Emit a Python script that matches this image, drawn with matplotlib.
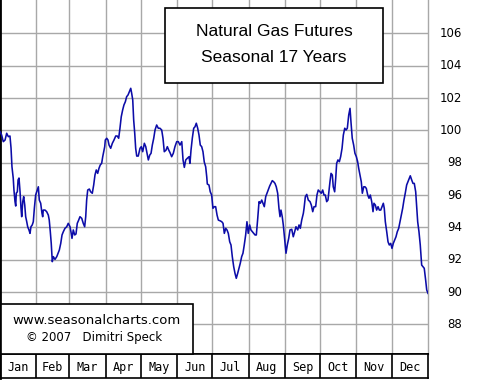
import matplotlib
matplotlib.use("Agg")
import matplotlib.pyplot as plt
import matplotlib.transforms as mtransforms
from matplotlib.patches import Rectangle

# ---- data -------------------------------------------------------------
days = [0, 1.4, 2.8, 4.3, 5.7, 7.1, 8.5, 9.4, 10.2, 11.3, 11.9, 12.8, 13.4, 13.9, 14.8, 15.4,
        16.2, 17.1, 17.9, 18.5, 19.4, 20.2, 21.1, 21.9, 22.8, 23.6, 24.7, 25.6, 26.4, 27.5,
        28.4, 29.3, 30.4, 31.8, 32.7, 33.5, 34.7, 35.8, 36.4, 36.9, 38.4, 39.8, 41.2, 42.0,
        42.9, 43.7, 44.6, 45.5, 46.9, 48.4, 49.5, 50.6, 51.8, 52.9, 54.0, 55.4, 56.9, 58.2,
        59.7, 60.5, 61.4, 62.5, 63.7, 64.8, 65.9, 67.1, 68.2, 69.7, 71.0, 72.2, 73.1, 73.9,
        74.8, 76.2, 77.3, 78.7, 79.9, 81.0, 82.1, 83.3, 84.4, 85.5, 86.7, 87.6, 88.7, 89.3,
        89.8, 91.0, 92.1, 93.0, 94.4, 95.8, 97.2, 98.7, 100.0, 101.2, 102.3, 103.4, 104.6,
        105.7, 106.9, 108.0, 109.2, 110.3, 111.5, 112.3, 113.2, 114.0, 114.9, 115.7, 116.6,
        117.9, 119.4, 120.5, 121.7, 123.1, 124.3, 125.4, 126.5, 127.7, 128.8, 129.9, 131.1,
        132.2, 133.6, 135.0, 136.4, 137.9, 139.0, 140.1, 141.6, 142.7, 143.9, 145.0, 146.4,
        147.8, 149.2, 150.7, 152.1, 153.5, 155.0, 156.1, 157.2, 158.4, 159.7, 161.2, 162.0,
        162.9, 164.0, 165.2, 166.3, 167.4, 168.6, 169.7, 170.8, 172.0, 173.1, 174.2, 175.4,
        176.3, 176.8, 178.2, 179.3, 180.5, 181.6, 182.8, 183.9, 185.1, 186.2, 187.6, 189.1,
        190.2, 191.3, 192.5, 193.6, 194.7, 195.9, 197.0, 198.1, 199.3, 200.4, 201.5, 202.7,
        203.8, 204.9, 206.1, 207.2, 208.3, 209.5, 210.6, 211.7, 212.9, 214.0, 215.2, 216.4,
        217.5, 218.6, 219.8, 220.9, 222.0, 223.2, 224.3, 225.4, 226.6, 227.7, 228.8, 230.0,
        231.1, 232.2, 233.4, 234.5, 235.6, 236.8, 237.9, 238.8, 239.6, 240.7, 241.6, 242.8,
        243.9, 245.0, 246.2, 247.3, 248.8, 250.1, 251.3, 252.4, 253.9, 255.0, 256.1, 257.3,
        258.7, 259.3, 260.4, 261.6, 262.9, 264.4, 265.5, 266.7, 267.8, 269.2, 270.3, 271.4,
        272.9, 274.0, 275.2, 276.3, 277.4, 278.6, 279.7, 280.6, 281.4, 282.3, 283.4, 284.2,
        285.4, 286.3, 287.1, 288.2, 289.4, 290.5, 291.7, 292.8, 294.0, 295.1, 296.2, 297.4,
        298.5, 299.3, 300.4, 301.6, 302.7, 303.9, 305.0, 305.9, 307.0, 308.1, 309.0, 310.2,
        311.3, 312.4, 313.6, 314.7, 315.8, 317.0, 318.1, 318.9, 320.1, 321.2, 322.4, 323.5,
        324.7, 325.8, 326.9, 327.7, 328.6, 329.8, 330.9, 332.0, 333.2, 334.3, 335.4, 336.6,
        337.7, 338.8, 340.0, 341.1, 342.2, 343.4, 344.5, 345.6, 346.8, 347.9, 349.1, 349.9,
        351.1, 352.2, 353.3, 354.5, 355.4, 356.2, 357.3, 358.4, 359.6, 360.7, 361.8, 363.0,
        363.9, 365.0]
values = [99.92, 99.71, 99.30, 99.40, 99.82, 99.61, 99.65, 98.91, 97.75, 97.03, 96.31, 95.59,
          95.32, 96.12, 96.20, 96.93, 97.05, 96.20, 95.20, 94.66, 95.59, 95.90, 95.38, 94.66,
          94.35, 94.04, 93.84, 93.63, 94.04, 94.15, 94.35, 95.18, 96.00, 96.31, 96.51, 95.69,
          95.49, 94.87, 94.66, 95.07, 95.07, 94.97, 94.76, 94.45, 93.73, 93.01, 91.88, 92.19,
          92.02, 92.19, 92.40, 92.60, 93.01, 93.53, 93.73, 93.94, 94.04, 94.25, 94.04, 93.73,
          93.32, 93.84, 93.53, 93.59, 94.25, 94.45, 94.66, 94.56, 94.25, 94.04, 94.66, 95.69,
          96.31, 96.37, 96.20, 96.11, 96.62, 97.24, 97.55, 97.34, 97.65, 97.86, 97.96, 98.37,
          98.78, 98.99, 99.40, 99.51, 99.40, 99.09, 98.89, 99.20, 99.40, 99.65, 99.65, 99.51,
          100.13, 100.84, 101.26, 101.57, 101.77, 102.08, 102.19, 102.39, 102.60, 102.29,
          101.88, 100.64, 99.82, 98.89, 98.41, 98.41, 98.89, 98.99, 98.68, 99.20, 98.99, 98.58,
          98.17, 98.47, 98.58, 99.09, 99.51, 100.02, 100.33, 100.13, 100.13, 100.02, 99.51,
          98.68, 98.78, 98.99, 98.78, 98.62, 98.37, 98.58, 98.99, 99.30, 99.30, 99.09, 99.30,
          98.17, 97.71, 98.17, 98.27, 98.37, 97.96, 98.78, 99.51, 100.13, 100.22, 100.44,
          100.13, 99.71, 99.09, 98.99, 98.68, 98.04, 97.75, 97.13, 96.68, 96.62, 96.20, 96.00,
          95.18, 95.28, 95.28, 94.76, 94.45, 94.41, 94.35, 94.25, 93.63, 93.94, 93.84, 93.63,
          93.11, 92.91, 92.19, 91.57, 91.16, 90.85, 91.16, 91.47, 91.78, 92.19, 92.40, 92.91,
          93.53, 94.35, 93.63, 94.15, 93.84, 93.73, 93.63, 93.53, 93.53, 94.56, 95.59, 95.49,
          95.69, 95.49, 95.28, 95.90, 96.11, 96.31, 96.56, 96.72, 96.89, 96.82, 96.72, 96.51,
          96.11, 95.18, 94.66, 95.07, 94.66, 94.15, 93.22, 92.40, 92.91, 93.32, 93.84, 93.88,
          93.42, 93.73, 94.04, 93.84, 94.15, 93.94, 94.45, 94.87, 95.18, 95.90, 96.04, 95.69,
          95.59, 95.38, 94.97, 95.28, 95.28, 96.00, 96.31, 96.20, 96.11, 96.31, 96.00, 96.00,
          95.59, 95.69, 96.31, 96.82, 97.34, 97.24, 96.51, 96.20, 97.03, 97.96, 98.17, 98.06,
          98.37, 98.89, 99.71, 100.13, 100.02, 100.13, 100.95, 101.36, 100.53, 99.51, 99.09,
          98.58, 98.37, 98.06, 97.65, 97.24, 96.82, 96.11, 96.51, 96.51, 96.41, 96.00, 95.80,
          96.00, 95.59, 94.97, 95.49, 95.38, 95.07, 95.28, 95.07, 95.07, 95.28, 95.49, 95.18,
          94.35, 93.73, 93.11, 92.91, 93.01, 92.70, 93.01, 93.22, 93.42, 93.73, 93.94, 94.35,
          94.76, 95.18, 95.69, 96.11, 96.62, 96.82, 97.03, 97.19, 96.93, 96.72, 96.72, 96.20,
          95.18, 94.35, 93.73, 92.91, 91.67, 91.57, 91.47, 90.74, 90.13, 89.92]

month_names = ["Jan", "Feb", "Mar", "Apr", "May", "Jun",
               "Jul", "Aug", "Sep", "Oct", "Nov", "Dec"]
month_edges = [0, 31, 59, 90, 120, 151, 181, 212, 243, 273, 304, 334, 365]
y_ticks = [88, 90, 92, 94, 96, 98, 100, 102, 104, 106]
title_lines = ["Natural Gas Futures", "Seasonal 17 Years"]
credit_lines = ["www.seasonalcharts.com", "\u00a9 2007   Dimitri Speck"]

# ---- layout -----------------------------------------------------------
W, H = 480, 380
fig = plt.figure(figsize=(W / 100, H / 100), dpi=100)
fig.patch.set_facecolor("white")

def fx(px):
    return px / W

def fy(py):
    return 1 - py / H

grid_c = "#a8a8a8"
ax = fig.add_axes([0, fy(354), fx(428), 354 / H])
ax.set_xlim(0, 365)
ax.set_ylim(86.17, 108.06)
ax.set_xticks(month_edges[1:-1])
ax.set_yticks(y_ticks)
ax.tick_params(left=False, right=False, bottom=False, top=False,
               labelleft=False, labelbottom=False)
ax.grid(True, color=grid_c, linewidth=1.0)
ax.set_axisbelow(True)
ax.spines["top"].set_visible(False)
ax.spines["right"].set_color(grid_c)
ax.spines["right"].set_linewidth(1.0)
ax.spines["left"].set_color("black")
ax.spines["left"].set_linewidth(2.0)
ax.spines["bottom"].set_color("black")
ax.spines["bottom"].set_linewidth(1.2)

ax.plot(days, values, color="#0c0ca8", linewidth=1.15, zorder=3)

# right-hand value labels
blend = mtransforms.blended_transform_factory(fig.transFigure, ax.transData)
for v in y_ticks:
    ax.text(fx(462), v, str(v), transform=blend, ha="right", va="center",
            fontsize=8.5, family="DejaVu Sans", clip_on=False)

# month row
axm = fig.add_axes([0, fy(378), fx(428), 24 / H])
axm.set_xlim(0, 365)
axm.set_ylim(0, 1)
axm.set_xticks([])
axm.set_yticks([])
for s in axm.spines.values():
    s.set_color("black")
    s.set_linewidth(1.2)
axm.spines["left"].set_linewidth(2.0)
for e in month_edges[1:-1]:
    axm.axvline(e, color="black", linewidth=1.2)
for i, name in enumerate(month_names):
    c = (month_edges[i] + month_edges[i + 1]) / 2
    axm.text(c, 0.45, name, ha="center", va="center", fontsize=8.5,
             family="DejaVu Sans Mono")

# title box
fig.add_artist(Rectangle((fx(165), fy(83)), fx(383) - fx(165), fy(8) - fy(83),
                         transform=fig.transFigure, facecolor="white",
                         edgecolor="black", linewidth=1.2, zorder=5))
fig.text(fx(274), fy(31), title_lines[0], ha="center", va="center",
         fontsize=12.5, family="Liberation Sans", zorder=6)
fig.text(fx(274), fy(57), title_lines[1], ha="center", va="center",
         fontsize=12.5, family="Liberation Sans", zorder=6)

# credit box
fig.add_artist(Rectangle((fx(0.5), fy(354)), fx(193) - fx(0.5), fy(304) - fy(354),
                         transform=fig.transFigure, facecolor="white",
                         edgecolor="black", linewidth=1.2, zorder=5))
fig.text(fx(97), fy(320), credit_lines[0], ha="center", va="center",
         fontsize=9.5, family="DejaVu Sans", zorder=6)
fig.text(fx(94), fy(338), credit_lines[1], ha="center", va="center",
         fontsize=8.5, family="DejaVu Sans", zorder=6)

fig.savefig("out.png", dpi=100, facecolor="white")
